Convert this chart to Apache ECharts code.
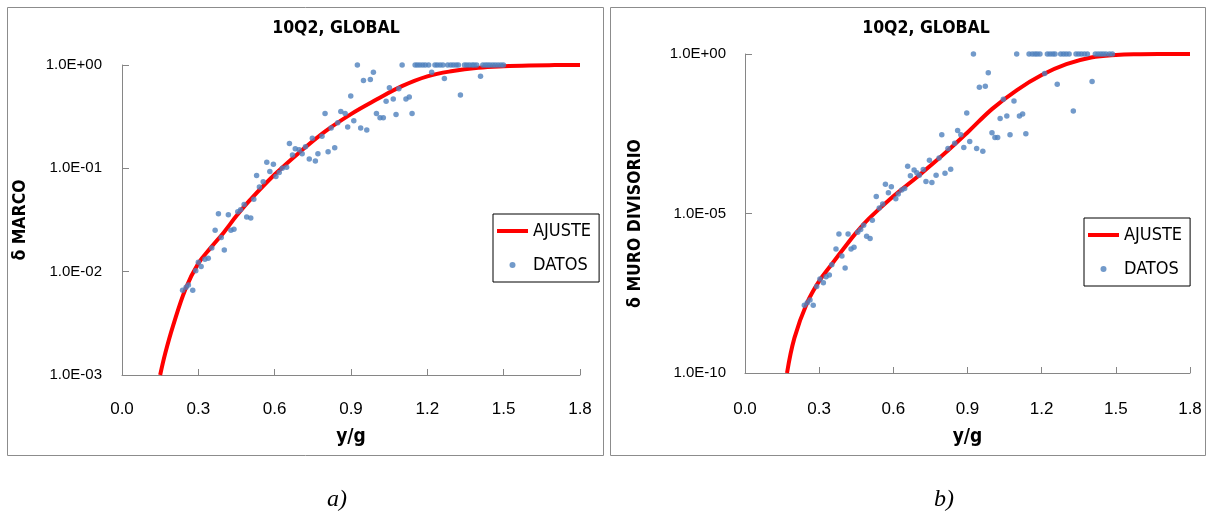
<!DOCTYPE html>
<html><head><meta charset="utf-8">
<script src="https://cdn.jsdelivr.net/npm/echarts@6/dist/echarts.min.js"></script>
<style>html,body{margin:0;padding:0;background:#fff}#c{width:1208px;height:516px}</style>
</head><body><div id="c"></div>
<script>
// ---------- data (y stored as base-10 exponents, read on the log axes) ----------
const chartTitle = '10Q2, GLOBAL';
const xTickLabels = ['0.0', '0.3', '0.6', '0.9', '1.2', '1.5', '1.8'];
const yTickLabelsA = ['1.0E-03', '1.0E-02', '1.0E-01', '1.0E+00'];
const yTickLabelsB = ['1.0E-10', '1.0E-05', '1.0E+00'];
const seriesNames = ['AJUSTE', 'DATOS'];

// panel a) δ MARCO
const fitXA   = [0.15, 0.17, 0.2, 0.25, 0.3, 0.35, 0.4, 0.45, 0.5, 0.6, 0.7, 0.8, 0.9, 1.0, 1.1, 1.2, 1.3, 1.4, 1.5, 1.6, 1.7, 1.8];
const fitExpA = [-3.0, -2.79, -2.53, -2.165, -1.92, -1.765, -1.62, -1.46, -1.315, -1.06, -0.84, -0.64, -0.475, -0.335, -0.205, -0.11, -0.058, -0.027, -0.012, -0.004, -0.001, 0];

const datXA = [0.238, 0.252, 0.261, 0.278, 0.290, 0.300, 0.311, 0.326, 0.339, 0.353, 0.366, 0.379, 0.390, 0.402, 0.418, 0.428, 0.440, 0.455, 0.466, 0.480,
  0.490, 0.506, 0.518, 0.529, 0.540, 0.555, 0.569, 0.581, 0.595, 0.605, 0.618, 0.630, 0.647, 0.658, 0.670, 0.681, 0.696, 0.708, 0.721, 0.736,
  0.748, 0.760, 0.770, 0.786, 0.798, 0.810, 0.822, 0.836, 0.848, 0.860, 0.877, 0.887, 0.899, 0.911, 0.925, 0.938, 0.949, 0.962, 0.976, 0.988,
  1.000, 1.014, 1.027, 1.038, 1.051, 1.066, 1.077, 1.088, 1.101, 1.116, 1.129, 1.140, 1.152, 1.161, 1.171, 1.182, 1.192, 1.205, 1.217, 1.230,
  1.239, 1.250, 1.261, 1.267, 1.280, 1.292, 1.302, 1.313, 1.322, 1.330, 1.346, 1.355, 1.365, 1.376, 1.384, 1.394, 1.409, 1.418, 1.428, 1.437,
  1.446, 1.457, 1.467, 1.478, 1.489, 1.499];
const datExpA = [-2.18, -2.15, -2.13, -2.18, -1.99, -1.91, -1.95, -1.88, -1.87, -1.77, -1.60, -1.44, -1.67, -1.79, -1.45, -1.60, -1.59, -1.42, -1.40, -1.35,
  -1.47, -1.48, -1.30, -1.07, -1.18, -1.13, -0.94, -1.03, -0.96, -1.08, -1.04, -1.00, -0.99, -0.76, -0.87, -0.81, -0.82, -0.86, -0.79, -0.91,
  -0.71, -0.93, -0.86, -0.69, -0.47, -0.84, -0.61, -0.80, -0.56, -0.45, -0.47, -0.60, -0.30, -0.54, 0, -0.61, -0.15, -0.63, -0.14, -0.07,
  -0.47, -0.51, -0.51, -0.35, -0.22, -0.33, -0.48, -0.23, 0, -0.33, -0.31, -0.47, 0, 0, 0, 0, 0, 0, -0.07, 0,
  0, 0, 0, -0.13, 0, 0, 0, 0, 0, -0.29, 0, 0, 0, 0, 0, 0, -0.11, 0, 0, 0,
  0, 0, 0, 0, 0, 0];

// panel b) δ MURO DIVISORIO
const fitXB   = [0.17, 0.2, 0.25, 0.3, 0.35, 0.4, 0.45, 0.5, 0.6, 0.7, 0.8, 0.9, 1.0, 1.1, 1.2, 1.3, 1.4, 1.5, 1.6, 1.7, 1.8];
const fitExpB = [-10.0, -8.9, -7.82, -7.12, -6.6, -6.09, -5.6, -5.17, -4.46, -3.83, -3.17, -2.46, -1.72, -1.13, -0.66, -0.32, -0.11, -0.03, -0.008, -0.002, 0];

const datXB = [0.240, 0.252, 0.263, 0.276, 0.290, 0.303, 0.317, 0.328, 0.341, 0.351, 0.368, 0.380, 0.392, 0.405, 0.417, 0.429, 0.441, 0.456, 0.468, 0.480,
  0.492, 0.506, 0.515, 0.531, 0.543, 0.557, 0.568, 0.580, 0.592, 0.610, 0.620, 0.634, 0.646, 0.658, 0.669, 0.684, 0.695, 0.705, 0.721, 0.732,
  0.746, 0.756, 0.773, 0.785, 0.796, 0.809, 0.821, 0.832, 0.848, 0.860, 0.873, 0.885, 0.897, 0.909, 0.924, 0.937, 0.948, 0.962, 0.972, 0.984,
  0.999, 1.011, 1.022, 1.032, 1.045, 1.059, 1.072, 1.088, 1.099, 1.110, 1.123, 1.136, 1.149, 1.162, 1.173, 1.182, 1.193, 1.212, 1.223, 1.234,
  1.245, 1.254, 1.263, 1.277, 1.288, 1.299, 1.311, 1.328, 1.339, 1.350, 1.361, 1.373, 1.385, 1.404, 1.417, 1.428, 1.439, 1.449, 1.460, 1.474,
  1.486];
const datExpB = [-7.88, -7.80, -7.71, -7.88, -7.29, -7.05, -7.17, -6.98, -6.93, -6.61, -6.11, -5.64, -6.33, -6.71, -5.64, -6.11, -6.06, -5.59, -5.50, -5.37,
  -5.71, -5.78, -5.21, -4.47, -4.83, -4.70, -4.08, -4.35, -4.16, -4.54, -4.39, -4.26, -4.22, -3.52, -3.82, -3.64, -3.72, -3.80, -3.62, -4.00,
  -3.33, -4.03, -3.80, -3.26, -2.53, -3.74, -2.96, -3.61, -2.80, -2.40, -2.53, -2.93, -1.85, -2.74, 0, -2.96, -1.04, -3.05, -1.01, -0.59,
  -2.47, -2.62, -2.62, -2.02, -1.42, -1.94, -2.53, -1.47, 0, -1.94, -1.88, -2.50, 0, 0, 0, 0, 0, -0.61, 0, 0,
  0, 0, -0.95, 0, 0, 0, 0, -1.79, 0, 0, 0, 0, 0, -0.86, 0, 0, 0, 0, 0, 0,
  0];

// ---------- chart ----------
const pairs = (xs, es) => xs.map((x, i) => [x, Math.pow(10, es[i])]);
const NARROW = "'Liberation Sans Narrow', 'DejaVu Sans Condensed', 'Arial Narrow', 'Liberation Sans', sans-serif";
const REG = "'Liberation Sans', Arial, sans-serif";
const AXIS_GRAY = '#868686';
const RED = '#FF0000';
const BLUE = '#4F81BD';

function xAxis(gridIndex, labelMargin, nameGap) {
  return {
    type: 'value', gridIndex, min: 0, max: 1.8, interval: 0.3,
    name: 'y/g', nameLocation: 'middle', nameGap,
    nameTextStyle: { fontFamily: NARROW, fontWeight: 'bold', fontSize: 19, color: '#000' },
    axisLine: { show: true, onZero: false, lineStyle: { color: AXIS_GRAY, width: 1 } },
    axisTick: { show: true, inside: true, length: 6, lineStyle: { color: AXIS_GRAY } },
    axisLabel: { margin: labelMargin, fontFamily: REG, fontSize: 17, color: '#000',
      formatter: (v, i) => xTickLabels[i] },
    splitLine: { show: false }
  };
}
function yAxis(gridIndex, min, interval, labels, name, nameGap, labelMargin, namePad) {
  return {
    type: 'log', gridIndex, logBase: 10, min, max: 1, interval,
    name, nameLocation: 'middle', nameGap, nameRotate: 90,
    nameTextStyle: { fontFamily: NARROW, fontWeight: 'bold', fontSize: 17.5, color: '#000', padding: namePad },
    axisLine: { show: true, onZero: false, lineStyle: { color: AXIS_GRAY, width: 1 } },
    axisTick: { show: true, inside: true, length: 7, lineStyle: { color: AXIS_GRAY } },
    axisLabel: { margin: labelMargin, fontFamily: REG, fontSize: 15, color: '#000',
      formatter: (v, i) => labels[i] },
    splitLine: { show: false }, minorTick: { show: false }, minorSplitLine: { show: false }
  };
}
function legend(left, top) {
  return {
    left, top, orient: 'vertical', selectedMode: false,
    data: [
      { name: seriesNames[0], icon: 'path://M0,0L31,0L31,4L0,4Z', itemStyle: { color: RED } },
      { name: seriesNames[1], icon: 'circle' }
    ],
    itemWidth: 31, itemHeight: 6, itemGap: 16, padding: [8, 8, 8, 4],
    borderColor: '#000', borderWidth: 1, backgroundColor: '#fff',
    textStyle: { fontFamily: NARROW, fontSize: 18, color: '#000' }
  };
}

const chart = echarts.init(document.getElementById('c'), null, { renderer: 'canvas' });
chart.setOption({
  animation: false,
  backgroundColor: '#fff',
  title: [
    { text: chartTitle, left: 336, top: 19, textAlign: 'center', padding: 0,
      textStyle: { fontFamily: NARROW, fontWeight: 'bold', fontSize: 17.5, color: '#000' } },
    { text: chartTitle, left: 926, top: 19, textAlign: 'center', padding: 0,
      textStyle: { fontFamily: NARROW, fontWeight: 'bold', fontSize: 17.5, color: '#000' } }
  ],
  grid: [
    { left: 122, top: 65, width: 458, height: 310, containLabel: false },
    { left: 745, top: 54, width: 445, height: 319, containLabel: false }
  ],
  xAxis: [xAxis(0, 26, 53), xAxis(1, 28, 55)],
  yAxis: [
    yAxis(0, 0.001, 1, yTickLabelsA, 'δ MARCO', 93, 20, 0),
    yAxis(1, 1e-10, 5, yTickLabelsB, 'δ MURO DIVISORIO', 101, 19, [0, 20, 0, 0])
  ],
  legend: [legend(493, 214), legend(1084, 218)],
  series: [
    { name: 'AJUSTE', type: 'line', xAxisIndex: 0, yAxisIndex: 0, data: pairs(fitXA, fitExpA),
      symbol: 'none', smooth: 0.4, lineStyle: { color: RED, width: 4 }, itemStyle: { color: RED }, z: 2 },
    { name: 'DATOS', type: 'scatter', xAxisIndex: 0, yAxisIndex: 0, data: pairs(datXA, datExpA),
      symbolSize: 5.5, itemStyle: { color: BLUE }, z: 3 },
    { name: 'AJUSTE', type: 'line', xAxisIndex: 1, yAxisIndex: 1, data: pairs(fitXB, fitExpB),
      symbol: 'none', smooth: 0.4, lineStyle: { color: RED, width: 4 }, itemStyle: { color: RED }, z: 2 },
    { name: 'DATOS', type: 'scatter', xAxisIndex: 1, yAxisIndex: 1, data: pairs(datXB, datExpB),
      symbolSize: 5.5, itemStyle: { color: BLUE }, z: 3 }
  ],
  graphic: [
    { type: 'rect', silent: true, z: -1, shape: { x: 7.5, y: 7.5, width: 596, height: 448 },
      style: { fill: 'none', stroke: '#8c8c8c', lineWidth: 1 } },
    { type: 'rect', silent: true, z: -1, shape: { x: 610.5, y: 7.5, width: 595, height: 448 },
      style: { fill: 'none', stroke: '#8c8c8c', lineWidth: 1 } },
    { type: 'text', silent: true, x: 337, y: 500,
      style: { text: 'a)', font: "italic 24px 'Liberation Serif', 'Times New Roman', serif", fill: '#000', align: 'center', verticalAlign: 'middle' } },
    { type: 'text', silent: true, x: 944, y: 500,
      style: { text: 'b)', font: "italic 24px 'Liberation Serif', 'Times New Roman', serif", fill: '#000', align: 'center', verticalAlign: 'middle' } }
  ]
});
</script></body></html>
